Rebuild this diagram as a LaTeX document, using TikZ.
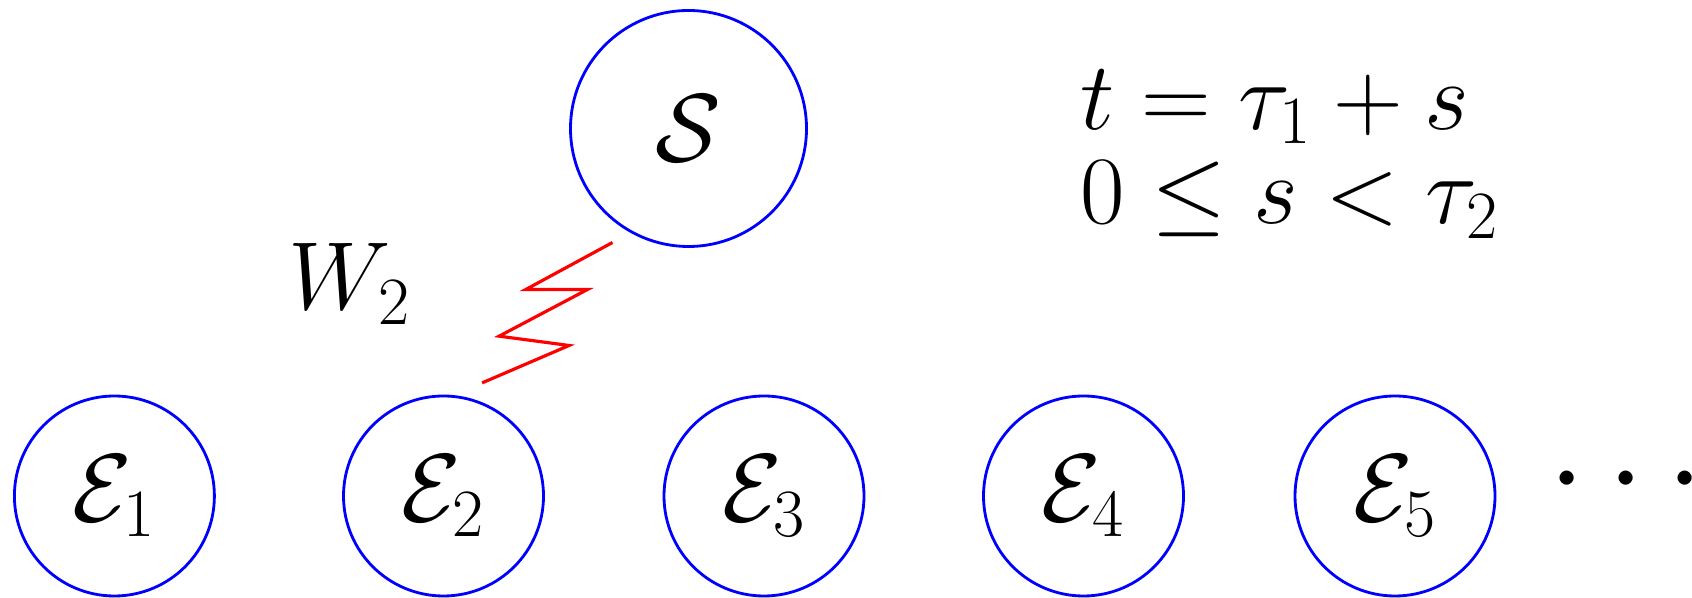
\RequirePackage{fix-cm}
\documentclass[tikz,border=0pt]{standalone}
\usetikzlibrary{calc}
\begin{document}
\begin{tikzpicture}[
  font=\fontsize{27.5}{29}\selectfont,
  no/.style={circle, draw=blue, line width=0.8pt, inner sep=0pt},
  zap/.style={red, line width=0.9pt}]
\useasboundingbox (0,0) rectangle (16.92,5.98);
% No central
\node[no, minimum size=2.36cm] (s) at (6.885,4.695) {$\mathcal{S}$};
% Nos de baixo
\foreach \i/\x in {1/1.144, 2/4.435, 3/7.64, 4/10.835, 5/13.95}
  \node[no, minimum size=2.0cm] (e\i) at (\x,1.02) {$\mathcal{E}_\i$};
\node[anchor=base, font=\fontsize{38}{45}\selectfont, inner sep=0pt] (dots) at (16.26,0.865) {$\cdots$};
% Raio entre S e E_2
\coordinate (zs) at ($(s.center)!1.37cm!(e2.center)$);
\draw[zap] (zs) -- ++(-0.867,-0.47) -- ++(0.617,0) -- ++(-0.884,-0.467)
  -- ++(0.70,-0.093) -- ++(-0.87,-0.374);
\node[anchor=base west, inner sep=0pt] (w) at (2.88,2.88) {$W_2$};
% Tempos
\node[anchor=base west, inner sep=0pt] (eqa) at (10.80,4.685) {$t=\tau_1+s$};
\node[anchor=base west, inner sep=0pt] (eqb) at (10.80,3.74) {$0\le s<\tau_2$};
\end{tikzpicture}
\end{document}
